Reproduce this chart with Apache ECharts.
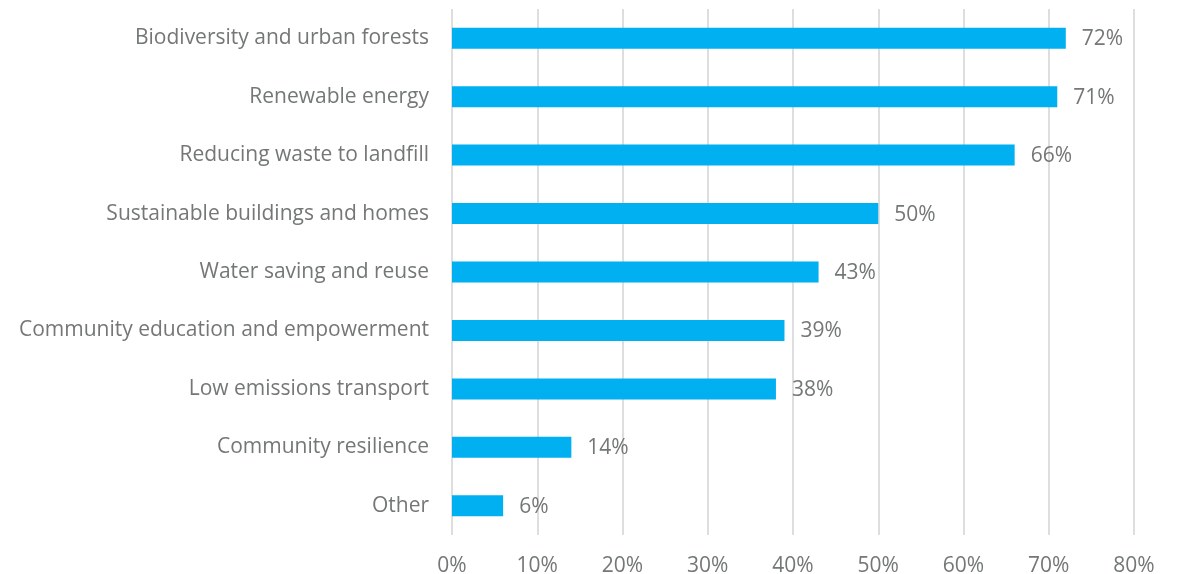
<!DOCTYPE html>
<html>
<head>
<meta charset="utf-8">
<script src="https://cdn.jsdelivr.net/npm/echarts@6/dist/echarts.min.js"></script>
<style>
  html, body { margin: 0; padding: 0; background: #ffffff; }
  #chart { width: 1178px; height: 574px; }
</style>
</head>
<body>
<div id="chart"></div>
<script>
// Priority areas, listed top to bottom
const categories = [
  'Biodiversity and urban forests',
  'Renewable energy',
  'Reducing waste to landfill',
  'Sustainable buildings and homes',
  'Water saving and reuse',
  'Community education and empowerment',
  'Low emissions transport',
  'Community resilience',
  'Other'
];
// Share of respondents (%)
const shares = [72, 71, 66, 50, 43, 39, 38, 14, 6];
const axisMax = 80;
const axisStep = 10;

const textColor = '#737875';
const fontFamily = '"Open Sans", sans-serif';

const chart = echarts.init(document.getElementById('chart'));
chart.setOption({
  animation: false,
  grid: {
    left: 452, right: 44, top: 9, bottom: 39,
    containLabel: false,
    outerBoundsMode: 'none'
  },
  xAxis: {
    type: 'value',
    min: 0,
    max: axisMax,
    interval: axisStep,
    axisLine: { show: false },
    axisTick: { show: false },
    splitLine: { show: true, lineStyle: { color: '#dedede', width: 2 } },
    axisLabel: {
      formatter: v => v + '%',
      color: textColor,
      fontSize: 21,
      fontFamily: fontFamily,
      margin: 21
    }
  },
  yAxis: {
    type: 'category',
    data: categories,
    inverse: true,
    axisLine: { show: false },
    axisTick: { show: false },
    axisLabel: {
      color: textColor,
      fontSize: 21,
      fontFamily: fontFamily,
      margin: 23
    }
  },
  series: [{
    type: 'bar',
    data: shares,
    barWidth: 21,
    itemStyle: { color: '#00b0f0' },
    label: {
      show: true,
      position: 'right',
      distance: 16,
      offset: [0, 1],
      formatter: p => p.value + '%',
      color: textColor,
      fontSize: 21,
      fontFamily: fontFamily
    }
  }]
});
</script>
</body>
</html>
